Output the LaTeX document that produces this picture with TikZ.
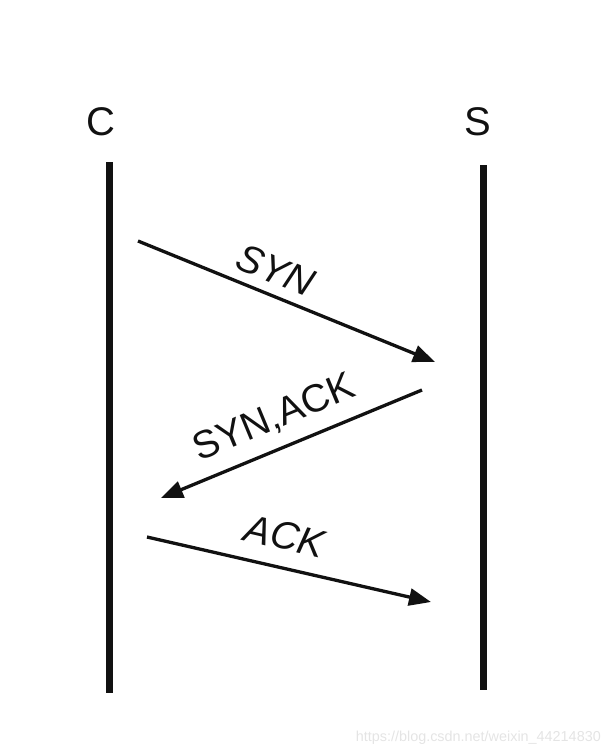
\documentclass[tikz,border=0pt]{standalone}
\usepackage{fontspec}
\setmainfont{Liberation Sans}
\usepackage{xcolor}
\usepackage{tikz}
\usetikzlibrary{positioning, arrows.meta}
\definecolor{ink}{HTML}{111111}
\definecolor{wmark}{HTML}{E4E4E4}

\begin{document}
\begin{tikzpicture}[
  x=1pt, y=-1pt,
  every node/.style={inner sep=0pt},
  host/.style={font=\fontsize{40}{40}\selectfont, text=ink},
  lifeline/.style={draw=ink, line width=7pt},
  msg/.style={-{Triangle[length=22pt, width=17pt]}, draw=ink, line width=3.3pt},
  lbl/.style={font=\fontsize{39}{39}\selectfont, text=ink}
]
  \useasboundingbox (0,0) rectangle (610,756);

  % the two hosts
  \node[host] (c) at (101,122) {C};
  \node[host] (s) at (478,122) {S};
  \coordinate (ctop) at (109,162);
  \coordinate (cbot) at (109,693);
  \coordinate (stop) at (483,165);
  \coordinate (sbot) at (483,690);
  \draw[lifeline] (ctop) -- (cbot);
  \draw[lifeline] (stop) -- (sbot);

  % handshake
  \coordinate (syn0) at (138,241);
  \coordinate (syn1) at (435,362);
  \coordinate (sa0) at (422,390);
  \coordinate (sa1) at (161,498);
  \coordinate (ack0) at (147,537);
  \coordinate (ack1) at (431,602);
  \draw[msg] (syn0) -- (syn1);
  \draw[msg] (sa0) -- (sa1);
  \draw[msg] (ack0) -- (ack1);

  \node[lbl, rotate=-22.5] (synl) at (276,270) {\itshape SYN};
  \node[lbl, rotate=22.5] (sal) at (274,418) {SYN,ACK};
  \node[lbl, rotate=-13] (ackl) at (285,536) {\itshape ACK};

  \node[anchor=east, text=wmark, font=\fontsize{14.4}{14.4}\selectfont] (wm) at (601,738)
    {https://blog.csdn.net/weixin\_44214830};
\end{tikzpicture}
\end{document}
